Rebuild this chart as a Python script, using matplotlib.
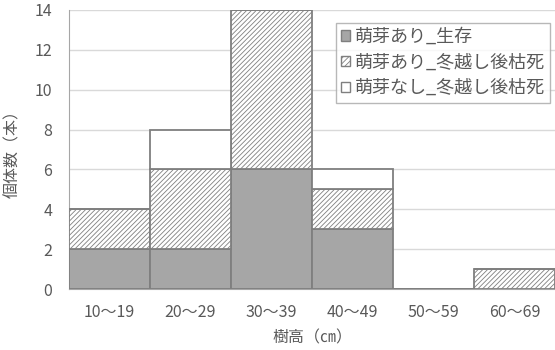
import numpy as np
import matplotlib.pyplot as plt
from matplotlib.patches import Patch

plt.rcParams['font.family'] = ['Noto Sans CJK JP', 'DejaVu Sans']
plt.rcParams['hatch.color'] = '#7f7f7f'
plt.rcParams['hatch.linewidth'] = 0.6

# data
categories = ['10～19', '20～29', '30～39', '40～49', '50～59', '60～69']
alive = [2, 2, 6, 3, 0, 0]
sprout_dead = [2, 4, 8, 2, 0, 1]
nosprout_dead = [0, 2, 0, 1, 0, 0]
series_labels = ['萌芽あり_生存', '萌芽あり_冬越し後枯死', '萌芽なし_冬越し後枯死']
yticks = [0, 2, 4, 6, 8, 10, 12, 14]

textColor = '#595959'
edgeColor = '#7f7f7f'

fig = plt.figure(figsize=(5.55, 3.5), dpi=100)
ax = fig.add_axes([69 / 555, 1 - 289 / 350, 486 / 555, 279 / 350])

x = np.arange(len(categories))
alive = np.array(alive)
sprout_dead = np.array(sprout_dead)
nosprout_dead = np.array(nosprout_dead)

ax.bar(x, alive, width=1.0, color='#a6a6a6', edgecolor=edgeColor, linewidth=1.3, zorder=3)
ax.bar(x, sprout_dead, width=1.0, bottom=alive, color='white', edgecolor=edgeColor,
       hatch='///////', linewidth=1.3, zorder=3)
ax.bar(x, nosprout_dead, width=1.0, bottom=alive + sprout_dead, color='white',
       edgecolor=edgeColor, linewidth=1.3, zorder=3)

ax.set_xlim(-0.5, len(categories) - 0.5)
ax.set_ylim(0, 14)
ax.set_yticks(yticks)
ax.set_xticks(x)
ax.set_xticklabels(categories)

ax.grid(axis='y', color='#d9d9d9', linewidth=1, zorder=0)
ax.set_axisbelow(True)
for side in ['top', 'right']:
    ax.spines[side].set_visible(False)
ax.spines['left'].set_color('#a6a6a6')
ax.spines['bottom'].set_color('#a6a6a6')
ax.tick_params(length=0, colors=textColor, labelsize=11.5)
ax.tick_params(axis='x', pad=11)
ax.tick_params(axis='y', pad=12)

ax.set_xlabel('樹高（㎝）', color=textColor, fontsize=11.5, labelpad=6)
ax.set_ylabel('個体数（本）', color=textColor, fontsize=11.5, labelpad=10)

handles = [
    Patch(facecolor='#a6a6a6', edgecolor=edgeColor),
    Patch(facecolor='white', edgecolor=edgeColor, hatch='//////'),
    Patch(facecolor='white', edgecolor=edgeColor),
]
leg = ax.legend(handles, series_labels, loc='upper right', bbox_to_anchor=(0.99, 0.955),
                fontsize=13, frameon=True, fancybox=False, handlelength=0.5,
                handleheight=0.5, handletextpad=0.25, labelspacing=0.42,
                borderpad=0.3, borderaxespad=0)
leg.get_frame().set_edgecolor('#a6a6a6')
leg.get_frame().set_linewidth(1)
for t in leg.get_texts():
    t.set_color(textColor)

plt.savefig('out.png', dpi=100)
plt.close()
